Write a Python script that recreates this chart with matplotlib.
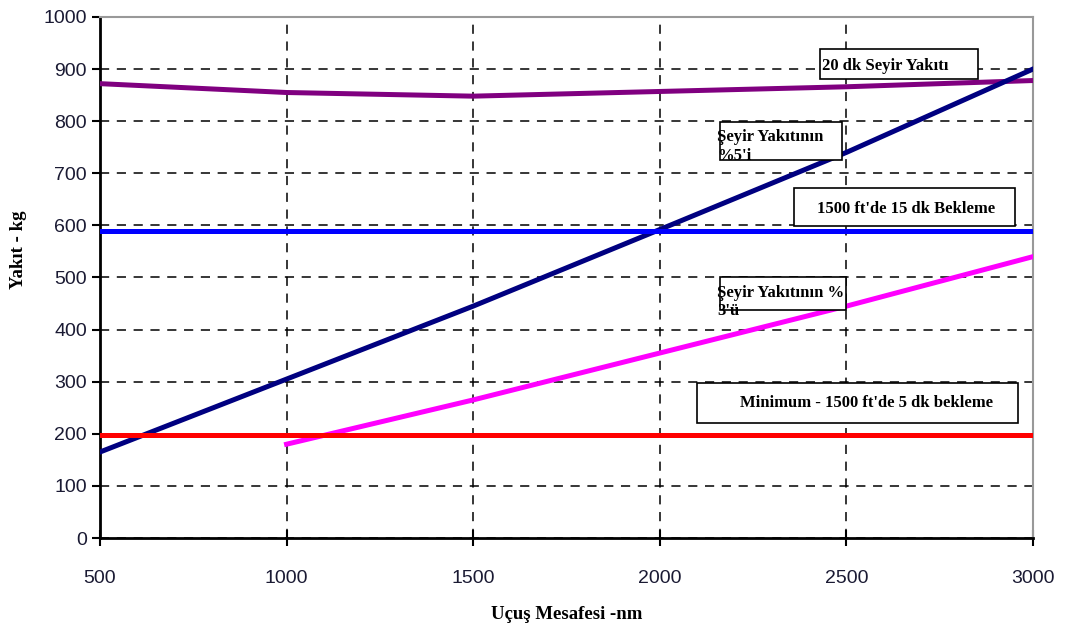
import matplotlib.pyplot as plt
from matplotlib.patches import Rectangle

# distance (nm)
dist = [500, 1000, 1500, 2000, 2500, 3000]
cruise20 = [872, 855, 848, 857, 866, 878]      # 20 dk Seyir Yakıtı
pct5 = [165, 305, 445, 592, 740, 900]          # Seyir yakıtının %5'i
hold15 = [590, 590, 590, 590, 590, 590]        # 1500 ft'de 15 dk bekleme
dist3 = [1000, 1500, 2000, 2500, 3000]
pct3 = [180, 265, 355, 445, 540]               # Seyir yakıtının %3'ü
hold5 = [197, 197, 197, 197, 197, 197]         # minimum 5 dk bekleme

xticks = [500, 1000, 1500, 2000, 2500, 3000]
yticks = list(range(0, 1001, 100))

serif = 'Liberation Serif'
sans = 'Liberation Sans'

fig = plt.figure(figsize=(10.68, 6.28), dpi=100)
ax = fig.add_axes([0.0936, 0.1433, 0.8736, 0.8297])

lw = 3.6
ax.plot(dist, cruise20, color='#800080', lw=lw, zorder=3)
ax.plot(dist, pct5, color='#000080', lw=lw, zorder=3)
ax.plot(dist, hold15, color='#0000ff', lw=lw, zorder=3)
ax.plot(dist3, pct3, color='#ff00ff', lw=lw, zorder=3)
ax.plot(dist, hold5, color='#ff0000', lw=lw, zorder=3)

ax.set_xlim(500, 3000)
ax.set_ylim(0, 1000)
ax.set_xticks(xticks)
ax.set_yticks(yticks)
ax.grid(True, color='black', linestyle=(0, (6, 5)), lw=1.1, zorder=1)

for s in ['top', 'right']:
    ax.spines[s].set_color('#999999')
    ax.spines[s].set_linewidth(1.5)
for s in ['left', 'bottom']:
    ax.spines[s].set_linewidth(2)

ax.tick_params(axis='y', direction='out', length=6, width=1.5, labelsize=14, colors='black')
ax.tick_params(axis='x', direction='inout', length=12, width=1.5, labelsize=14, pad=17)
for lab in ax.get_xticklabels() + ax.get_yticklabels():
    lab.set_family(sans)
    lab.set_color('#1a1a33')

ax.set_xlabel('Uçuş Mesafesi -nm', fontfamily=serif, fontweight='bold', fontsize=13.5, labelpad=14)
ax.set_ylabel('Yakıt - kg', fontfamily=serif, fontweight='bold', fontsize=13.5)
ax.yaxis.set_label_coords(-0.078, 0.553)


def box(x0, y0, x1, y1):
    ax.add_patch(Rectangle((x0, y0), x1 - x0, y1 - y0, facecolor='white',
                           edgecolor='black', lw=1.2, zorder=4))


tkw = dict(fontfamily=serif, fontweight='bold', fontsize=12, zorder=5)

box(2429, 881, 2852, 938)
ax.text(2435, 906, '20 dk Seyir Yakıtı', va='center', ha='left', **tkw)

box(2161, 726, 2488, 798)
ax.text(2153, 770, 'Şeyir Yakıtının', va='center', ha='left', **tkw)
ax.text(2153, 733, "%5'i", va='center', ha='left', **tkw)

box(2360, 599, 2952, 672)
ax.text(2660, 632, "1500 ft'de 15 dk Bekleme", va='center', ha='center', **tkw)

box(2161, 438, 2499, 501)
ax.text(2153, 470, 'Şeyir Yakıtının %', va='center', ha='left', **tkw)
ax.text(2153, 436, "3'ü", va='center', ha='left', **tkw)

box(2100, 221, 2960, 298)
ax.text(2553, 259, "Minimum - 1500 ft'de 5 dk bekleme", va='center', ha='center', **tkw)

fig.savefig('out.png', dpi=100)
